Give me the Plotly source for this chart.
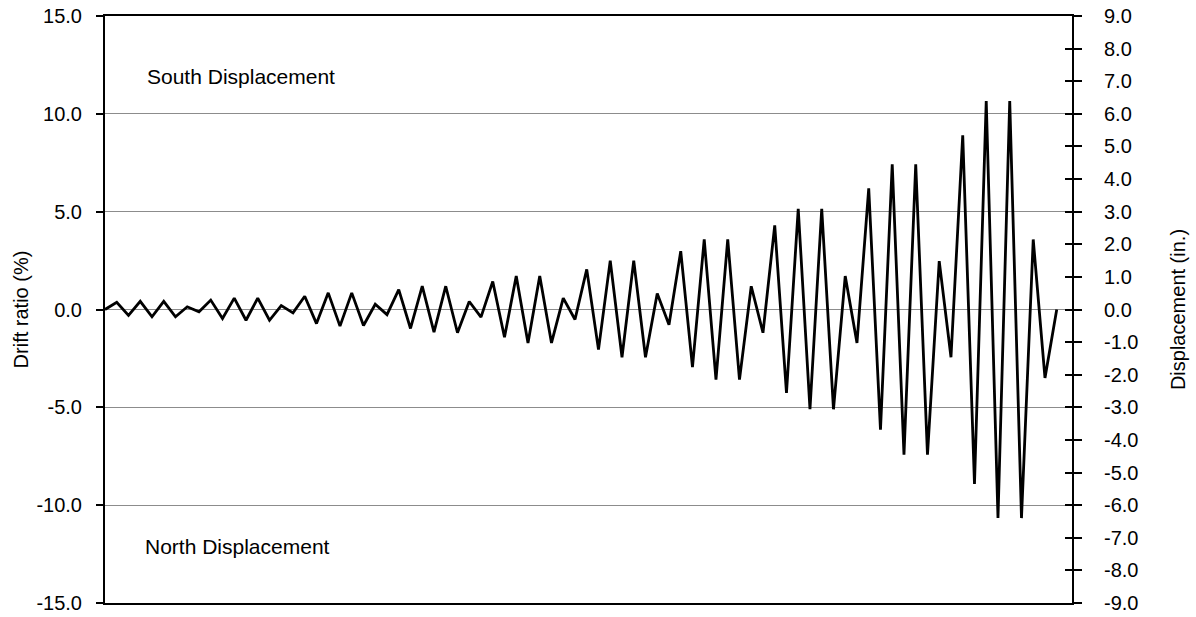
import plotly.graph_objects as go

# Drift ratio (%) at each load step
drift_ratio = [
    0.0, 0.37, -0.3, 0.42, -0.37, 0.42, -0.37, 0.14, -0.12, 0.48,
    -0.46, 0.58, -0.55, 0.58, -0.55, 0.2, -0.17, 0.68, -0.72, 0.85,
    -0.85, 0.85, -0.82, 0.27, -0.26, 1.02, -0.97, 1.19, -1.16, 1.19,
    -1.19, 0.41, -0.39, 1.43, -1.42, 1.71, -1.71, 1.71, -1.71, 0.58,
    -0.51, 2.05, -2.05, 2.5, -2.44, 2.5, -2.44, 0.82, -0.78, 2.98,
    -2.95, 3.58, -3.58, 3.58, -3.58, 1.19, -1.19, 4.3, -4.26, 5.15,
    -5.1, 5.15, -5.1, 1.71, -1.71, 6.19, -6.14, 7.42, -7.42, 7.42,
    -7.42, 2.47, -2.44, 8.9, -8.92, 10.66, -10.66, 10.66, -10.66, 3.58,
    -3.5, 0.0,
]
steps = list(range(len(drift_ratio)))

left_ticks = [-15, -10, -5, 0, 5, 10, 15]
right_ticks = list(range(-9, 10))

FONT = "Liberation Sans, Arial, sans-serif"
FS = 20

fig = go.Figure()
fig.add_trace(go.Scatter(
    x=steps, y=drift_ratio, mode="lines",
    line=dict(color="black", width=2.8),
    showlegend=False, hoverinfo="skip",
))
# invisible traces to activate secondary axes
fig.add_trace(go.Scatter(x=[None], y=[None], yaxis="y2", showlegend=False))
fig.add_trace(go.Scatter(x=[None], y=[None], yaxis="y3", showlegend=False))

fig.update_layout(
    width=1196, height=617, autosize=False,
    margin=dict(l=105, r=124, t=16, b=14, pad=0),
    paper_bgcolor="white", plot_bgcolor="white",
    font=dict(family=FONT, size=FS, color="black"),
    xaxis=dict(
        range=[0, 82.3], showgrid=False, zeroline=False,
        showticklabels=False, ticks="", automargin=False,
        showline=True, linecolor="black", linewidth=2, mirror=True,
    ),
    yaxis=dict(
        range=[-15, 15], tickvals=left_ticks,
        ticktext=[f"{v:.1f}" for v in left_ticks],
        ticks="outside", ticklen=7, tickcolor="black", tickwidth=1.5,
        showline=True, linecolor="black", linewidth=2,
        showgrid=True, gridcolor="#8c8c8c", gridwidth=1,
        zeroline=False, automargin=False, ticklabeloverflow="allow",
        title=dict(text="Drift ratio (%)", font=dict(size=FS), standoff=2),
        ticklabelstandoff=10,
    ),
    yaxis2=dict(
        range=[-9, 9], tickvals=right_ticks,
        ticktext=[f"{v:.1f}" for v in right_ticks],
        overlaying="y", side="right",
        ticks="outside", ticklen=8, tickcolor="black", tickwidth=1.5,
        showline=True, linecolor="black", linewidth=2,
        showgrid=False, zeroline=False, automargin=False,
        ticklabeloverflow="allow",
        title=dict(text="Displacement (in.)", font=dict(size=FS), standoff=34),
        ticklabelstandoff=18,
    ),
    yaxis3=dict(
        range=[-9, 9], tickvals=right_ticks,
        overlaying="y", side="right",
        ticks="inside", ticklen=7, tickcolor="black", tickwidth=1.5,
        showticklabels=False, showline=False, automargin=False,
        showgrid=False, zeroline=False,
    ),
    annotations=[
        dict(x=3.4, y=11.9, xref="x", yref="y", text="South Displacement",
             showarrow=False, xanchor="left", yanchor="middle",
             font=dict(size=21)),
        dict(x=3.26, y=-12.1, xref="x", yref="y", text="North Displacement",
             showarrow=False, xanchor="left", yanchor="middle",
             font=dict(size=21)),
    ],
)

fig.write_html(
    "out.html",
    config={"displayModeBar": False},
    post_script="document.body.style.margin='0px';document.body.style.overflow='hidden';",
)
